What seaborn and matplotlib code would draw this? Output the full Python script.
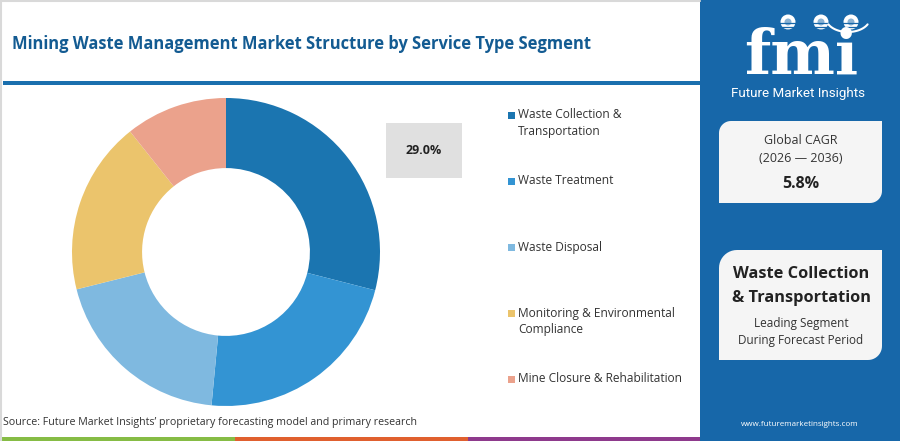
import numpy as np
import matplotlib
matplotlib.use("Agg")
import matplotlib.pyplot as plt
from matplotlib.patches import Rectangle, PathPatch, Circle
from matplotlib.path import Path
import seaborn as sns

TITLE = "Mining Waste Management Market Structure by Service Type Segment"
SEGMENTS = ["Waste Collection &\nTransportation", "Waste Treatment", "Waste Disposal",
            "Monitoring & Environmental\nCompliance", "Mine Closure & Rehabilitation"]
SHARES = [29.0, 22.5, 19.6, 18.2, 10.7]
COLORS = ["#1b75b0", "#3394d3", "#7fb9e0", "#ebc46c", "#eba28c"]
LEAD_SHARE = "29.0%"
CAGR_LABEL = "Global CAGR"
CAGR_PERIOD = "(2026 \u2014 2036)"
CAGR_VALUE = "5.8%"
LEAD_SEGMENT = ["Waste Collection", "& Transportation"]
LEAD_NOTE = ["Leading Segment", "During Forecast Period"]
SOURCE = "Source: Future Market Insights\u2019 proprietary forecasting model and primary research"
URL = "www.futuremarketinsights.com"

PANEL = "#1767a9"
TITLE_C = "#135b92"
FONT = ["Open Sans", "DejaVu Sans"]

sns.set_theme(style="white")
plt.rcParams["font.family"] = FONT

W, H = 900, 441
fig = plt.figure(figsize=(W / 100, H / 100), dpi=100)
fig.patch.set_facecolor("white")

# background canvas in pixel units
bg = fig.add_axes([0, 0, 1, 1])
bg.set_xlim(0, W)
bg.set_ylim(H, 0)
bg.axis("off")
bg.set_zorder(0)


def round_box(ax, x0, y0, x1, y1, r_tl, r_br, color):
    # box with rounded top-left and bottom-right corners (y grows downward)
    pts = []
    t = np.linspace(0, np.pi / 2, 12)
    for a in t:
        pts.append((x0 + r_tl - r_tl * np.cos(a), y0 + r_tl - r_tl * np.sin(a)))
    pts.append((x1, y0))
    for a in t:
        pts.append((x1 - r_br + r_br * np.cos(a), y1 - r_br + r_br * np.sin(a)))
    pts.append((x0, y1))
    pts.append(pts[0])
    ax.add_patch(PathPatch(Path(pts), facecolor=color, edgecolor="none"))


# frame, title and rule
bg.plot([0, 700], [1, 1], color="#d9d9d9", lw=1.5)
bg.plot([0.5, 0.5], [0, 441], color="#d9d9d9", lw=1.5)
bg.text(12, 44, TITLE, fontsize=11.9, fontweight="bold", color=TITLE_C,
        va="center", ha="left")
bg.add_patch(Rectangle((3, 81), 697, 3.5, color="#1a6fae", lw=0))

# right panel
bg.add_patch(Rectangle((700, 0), 200, 441, color=PANEL, lw=0))
bg.text(801, 74, "fmi", fontsize=44, fontweight="bold", family="DejaVu Serif",
        color="white", ha="center", va="baseline")
for yy in np.arange(23, 78, 3.6):
    bg.plot([728, 875], [yy, yy], color=PANEL, lw=0.9)
for cx in (788, 821, 851):
    bg.add_patch(Circle((cx, 22), 7.5, color="white", lw=0))
    bg.add_patch(Circle((cx, 22), 3.5, color=PANEL, lw=0, alpha=0.5))
arc = np.linspace(0.15 * np.pi, 0.85 * np.pi, 30)
bg.plot(848 + 22 * np.cos(arc), 18 + 14 * np.sin(arc), color="white", lw=1.5)
bg.text(798, 93, "Future Market Insights", fontsize=9.6, color="white",
        ha="center", va="center", family=["Roboto", "DejaVu Sans"])

round_box(bg, 719, 121, 882, 203, 12, 12, "#f5f5f5")
bg.text(801, 141, CAGR_LABEL, fontsize=9, color="#333333", ha="center", va="center")
bg.text(801, 158, CAGR_PERIOD, fontsize=9, color="#333333", ha="center", va="center")
bg.text(801, 184, CAGR_VALUE, fontsize=11.5, fontweight="bold", color="#222222",
        ha="center", va="center")

round_box(bg, 719, 250, 882, 360, 18, 14, "#f5f5f5")
for i, line in enumerate(LEAD_SEGMENT):
    bg.text(801, 274 + 24 * i, line, fontsize=11.8, fontweight="bold",
            color="#222222", ha="center", va="center")
for i, line in enumerate(LEAD_NOTE):
    bg.text(801, 323 + 17.5 * i, line, fontsize=8.5, color="#333333",
            ha="center", va="center")
bg.text(800, 425, URL, fontsize=5.8, color="white", ha="center", va="center")

# legend
leg_y = [115, 181, 247, 313, 379]
for lab, col, y in zip(SEGMENTS, COLORS, leg_y):
    bg.add_patch(Rectangle((507.5, y - 3.5), 7, 7, color=col, lw=0))
    for j, line in enumerate(lab.split("\n")):
        bg.text(518, y + 17 * j, line, fontsize=8.6, color="#333333",
                ha="left", va="center")

# lead share callout
bg.add_patch(Rectangle((386, 123), 76, 55, color="#e0e0e0", lw=0))
bg.text(424, 151, LEAD_SHARE, fontsize=9, fontweight="bold", color="#222222",
        ha="center", va="center")

# source and colour strip
bg.text(3, 422, SOURCE, fontsize=7.7, color="#333333", ha="left", va="center")
for x0, x1, c in [(0, 235, "#86bc45"), (235, 468, "#e0602f"), (468, 700, "#8e3a8c")]:
    bg.add_patch(Rectangle((x0, 436.5), x1 - x0, 5, color=c, lw=0))

# donut
cx, cy, r = 226, 252, 154
ax = fig.add_axes([(cx - r) / W, (H - cy - r) / H, 2 * r / W, 2 * r / H])
ax.set_zorder(1)
ax.pie(SHARES, colors=sns.color_palette(COLORS), startangle=90, counterclock=False,
       radius=1, wedgeprops=dict(width=0.455, edgecolor="none"))
ax.set_xlim(-1, 1)
ax.set_ylim(-1, 1)
ax.axis("off")

fig.savefig("out.png", dpi=100, facecolor="white")
